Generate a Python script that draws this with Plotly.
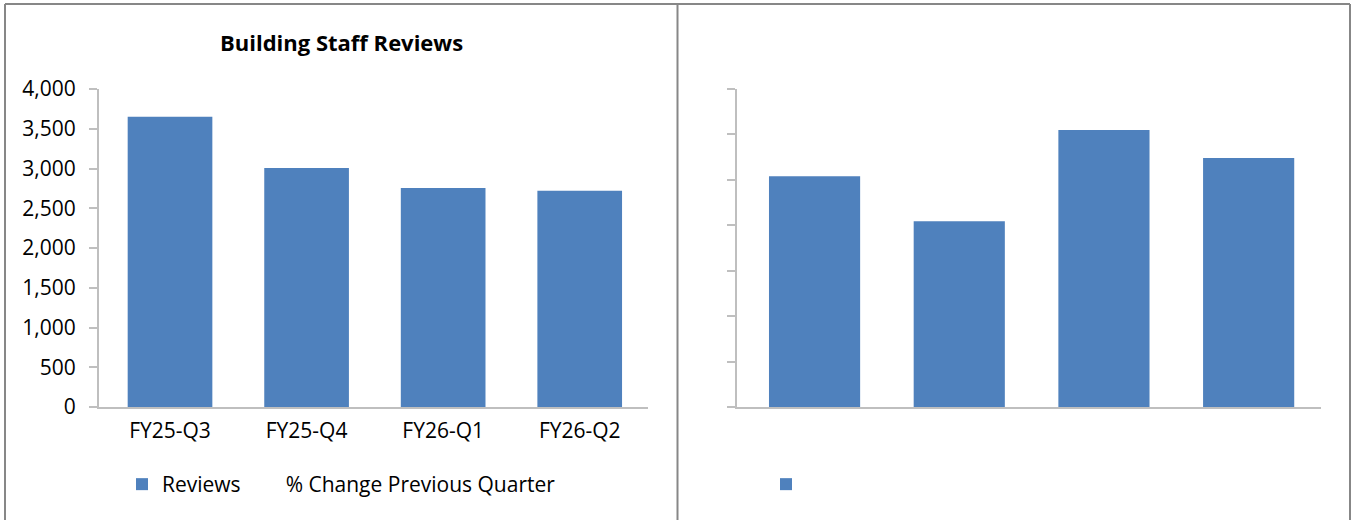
import plotly.graph_objects as go

# Data
quarters = ["FY25-Q3", "FY25-Q4", "FY26-Q1", "FY26-Q2"]
reviews = [3650, 3005, 2755, 2720]
pct_change = [None, None, None, None]  # series has no visible values in the chart
right_values = [5.08, 4.09, 6.10, 5.48]  # right panel, unlabeled axis units
right_ticks = [0, 1, 2, 3, 4, 5, 6, 7]

W, H = 1351, 520
BLUE = "#4F81BD"
AXIS = "#BFBFBF"
BORDER = "#878787"
FONT = "Open Sans"


def px(x):
  return x / W


def py(y):
  return 1 - y / H


fig = go.Figure()

fig.add_trace(go.Bar(
  x=quarters, y=reviews, name="Reviews", marker=dict(color=BLUE, line=dict(width=0)),
  width=0.62, xaxis="x", yaxis="y", legend="legend",
))
fig.add_trace(go.Scatter(
  x=quarters, y=pct_change, name="% Change Previous Quarter", mode="lines",
  line=dict(width=0, color="rgba(0,0,0,0)"), xaxis="x", yaxis="y", legend="legend",
))
fig.add_trace(go.Bar(
  x=quarters, y=right_values, name="", marker=dict(color=BLUE, line=dict(width=0)),
  width=0.63, xaxis="x2", yaxis="y2", legend="legend2",
))

font = dict(family=FONT, size=21, color="#000000")

fig.update_layout(
  width=W, height=H,
  margin=dict(l=0, r=0, t=0, b=0, autoexpand=False),
  paper_bgcolor="white", plot_bgcolor="white",
  font=font,
  bargap=0.38,
  xaxis=dict(
    domain=[px(99), px(648)], range=[-0.52, 3.5], showgrid=False, zeroline=False,
    showline=True, linecolor=AXIS, linewidth=2, ticks="", ticklabelstandoff=4,
    anchor="y", fixedrange=True,
  ),
  yaxis=dict(
    domain=[py(407), py(89)], range=[0, 4000], dtick=500, tickformat=",",
    showgrid=False, zeroline=False, showline=True, linecolor=AXIS, linewidth=2,
    ticks="outside", ticklen=8, tickcolor=AXIS, tickwidth=2, ticklabelstandoff=9,
    anchor="x", fixedrange=True,
  ),
  xaxis2=dict(
    domain=[px(737), px(1321)], range=[-0.536, 3.5], showgrid=False, zeroline=False,
    showline=True, linecolor=AXIS, linewidth=2, ticks="", showticklabels=False,
    anchor="y2", fixedrange=True,
  ),
  yaxis2=dict(
    domain=[py(407), py(89)], range=[0, 7], tickvals=right_ticks,
    showgrid=False, zeroline=False, showline=True, linecolor=AXIS, linewidth=2,
    ticks="outside", ticklen=8, tickcolor=AXIS, tickwidth=2, showticklabels=False,
    anchor="x2", fixedrange=True,
  ),
  legend=dict(
    orientation="h", x=px(122), y=py(464), xanchor="left", yanchor="top",
    font=font, bgcolor="rgba(0,0,0,0)", itemclick=False, itemdoubleclick=False,
  ),
  legend2=dict(
    orientation="h", x=px(766), y=py(464), xanchor="left", yanchor="top",
    font=font, bgcolor="rgba(0,0,0,0)", itemclick=False, itemdoubleclick=False,
  ),
  annotations=[dict(
    text="<b>Building Staff Reviews</b>", x=px(341), y=py(42), xref="paper", yref="paper",
    xanchor="center", yanchor="middle",
    showarrow=False, font=dict(family=FONT, size=22, color="#000000"),
  )],
  shapes=[
    dict(type="line", xref="paper", yref="paper", x0=px(5), x1=px(1350), y0=py(4), y1=py(4),
         line=dict(color=BORDER, width=2)),
    dict(type="line", xref="paper", yref="paper", x0=px(5), x1=px(5), y0=py(4), y1=py(522),
         line=dict(color=BORDER, width=2)),
    dict(type="line", xref="paper", yref="paper", x0=px(677.5), x1=px(677.5), y0=py(4), y1=py(522),
         line=dict(color=BORDER, width=2)),
    dict(type="line", xref="paper", yref="paper", x0=px(1350), x1=px(1350), y0=py(4), y1=py(522),
         line=dict(color=BORDER, width=2)),
  ],
)

# drop the default page margin so the figure sits at the window's top-left corner
fig.write_html(
  "out.html",
  config={"displayModeBar": False},
  post_script="document.body.style.margin='0';document.body.style.overflow='hidden';",
)
